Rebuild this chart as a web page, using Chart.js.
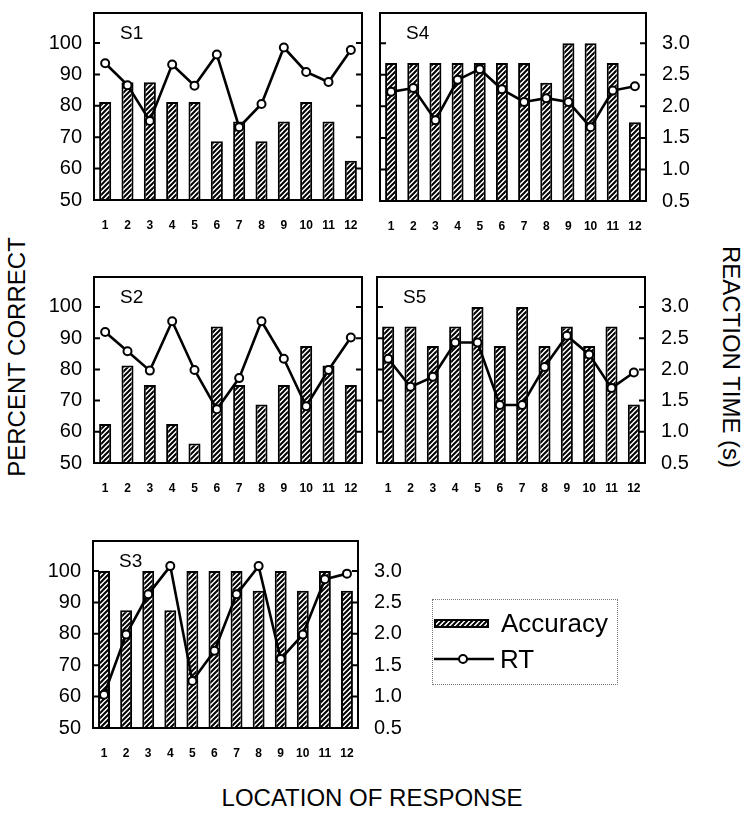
<!DOCTYPE html>
<html>
<head>
<meta charset="utf-8">
<script src="https://cdn.jsdelivr.net/npm/chart.js@4.4.1/dist/chart.umd.min.js"></script>
<style>
  body { margin: 0; width: 742px; height: 813px; position: relative; overflow: hidden; background: #fff;
         font-family: "Liberation Sans", Arial, sans-serif; color: #000; }
  .panel { position: absolute; }
  .tag { position: absolute; font-size: 19px; line-height: 1; }
  .title { position: absolute; font-size: 24px; white-space: nowrap; line-height: 1; }
  #legend { position: absolute; left: 432px; top: 599px; width: 186px; height: 86px;
            border: 1px dotted #777; box-sizing: border-box; font-size: 26px; line-height: 1; }
  #legend .row { position: absolute; left: 1px; display: flex; align-items: center; }
</style>
</head>
<body>

<div class="title" style="left:17px; top:357px; transform: translate(-50%,-50%) rotate(-90deg);">PERCENT CORRECT</div>
<div class="title" style="left:731px; top:357px; transform: translate(-50%,-50%) rotate(90deg);">REACTION TIME (s)</div>
<div class="title" style="left:372px; top:798px; transform: translate(-50%,-50%);">LOCATION OF RESPONSE</div>

<div id="legend">
  <div class="row" style="top:10px;"><canvas id="swatch" width="55" height="9" style="margin-right:12px;"></canvas>Accuracy</div>
  <div class="row" style="top:46px;"><svg width="60" height="14" style="margin-right:6px;">
    <line x1="0" y1="7" x2="60" y2="7" stroke="#000" stroke-width="2.5"/>
    <circle cx="29" cy="7" r="4" fill="#fff" stroke="#000" stroke-width="2"/></svg>RT</div>
</div>

<script>
// response locations and axis ticks
const locations = ['1', '2', '3', '4', '5', '6', '7', '8', '9', '10', '11', '12'];
const pctTicks = [50, 60, 70, 80, 90, 100];
const rtTicks = [0.5, 1.0, 1.5, 2.0, 2.5, 3.0];

// accuracy (% correct) and reaction time (s) per subject
const accS1 = [81.25, 87.5, 87.5, 81.25, 81.25, 68.75, 75, 68.75, 75, 81.25, 75, 62.5];
const rtS1 = [2.68, 2.33, 1.76, 2.66, 2.32, 2.82, 1.66, 2.03, 2.93, 2.54, 2.38, 2.89];

const accS2 = [62.5, 81.25, 75, 62.5, 56.25, 93.75, 75, 68.75, 75, 87.5, 81.25, 75];
const rtS2 = [2.60, 2.29, 1.98, 2.77, 1.99, 1.36, 1.86, 2.77, 2.17, 1.41, 1.99, 2.51];

const accS3 = [100, 87.5, 100, 87.5, 100, 100, 100, 93.75, 100, 93.75, 100, 93.75];
const rtS3 = [1.03, 1.99, 2.63, 3.08, 1.25, 1.73, 2.63, 3.08, 1.60, 1.99, 2.87, 2.96];

const accS4 = [93.75, 93.75, 93.75, 93.75, 93.75, 93.75, 93.75, 87.5, 100, 100, 93.75, 75];
const rtS4 = [2.23, 2.29, 1.78, 2.42, 2.59, 2.27, 2.07, 2.13, 2.07, 1.67, 2.25, 2.32];

const accS5 = [93.75, 93.75, 87.5, 93.75, 100, 87.5, 100, 87.5, 93.75, 87.5, 93.75, 68.75];
const rtS5 = [2.17, 1.72, 1.88, 2.43, 2.43, 1.43, 1.43, 2.04, 2.54, 2.24, 1.70, 1.95];

// both axes share one frame: 10 % correct <-> 0.5 s
const PCT_MAX = 109.6;
const RT_MAX = 0.5 + (PCT_MAX - 50) * 0.05;

const AX = 80, TOP = 2, XH = 40;

function makeHatch() {
  const c = document.createElement('canvas');
  c.width = 5; c.height = 5;
  const g = c.getContext('2d');
  g.fillStyle = '#fff';
  g.fillRect(0, 0, 5, 5);
  g.strokeStyle = '#000';
  g.lineWidth = 2;
  g.beginPath();
  g.moveTo(-1, 6); g.lineTo(6, -1);
  g.moveTo(-3.5, 3.5); g.lineTo(3.5, -3.5);
  g.moveTo(1.5, 8.5); g.lineTo(8.5, 1.5);
  g.stroke();
  return g.createPattern(c, 'repeat');
}

// closed box with inward ticks
const framePlugin = {
  id: 'frame',
  afterDatasetsDraw(chart) {
    const { ctx, chartArea: a, scales } = chart;
    ctx.save();
    ctx.strokeStyle = '#000';
    ctx.lineWidth = 2;
    ctx.strokeRect(a.left, a.top, a.right - a.left, a.bottom - a.top);
    ctx.beginPath();
    pctTicks.forEach(v => {
      const y = scales.y.getPixelForValue(v);
      ctx.moveTo(a.left, y); ctx.lineTo(a.left + 6, y);
    });
    rtTicks.forEach(v => {
      const y = scales.y1.getPixelForValue(v);
      ctx.moveTo(a.right - 6, y); ctx.lineTo(a.right, y);
    });
    ctx.stroke();
    ctx.restore();
  }
};

function noPadding(s) {
  s.paddingTop = 0; s.paddingBottom = 0; s.paddingLeft = 0; s.paddingRight = 0;
}

function panel(name, acc, rt, left, top, width, height, showLeft, showRight) {
  const box = document.createElement('div');
  box.className = 'panel';
  box.style.left = (left - AX) + 'px';
  box.style.top = (top - TOP) + 'px';
  box.style.width = (width + 2 * AX) + 'px';
  box.style.height = (height + TOP + XH) + 'px';
  const cv = document.createElement('canvas');
  box.appendChild(cv);
  document.body.appendChild(box);

  const tag = document.createElement('div');
  tag.className = 'tag';
  tag.textContent = name;
  tag.style.left = (left + 26) + 'px';
  tag.style.top = (top + 14) + 'px';
  document.body.appendChild(tag);

  new Chart(cv, {
    data: {
      labels: locations,
      datasets: [
        {
          type: 'line', label: 'RT', data: rt, yAxisID: 'y1', order: 0,
          borderColor: '#000', borderWidth: 2.6, tension: 0,
          pointRadius: 4, pointBackgroundColor: '#fff', pointBorderColor: '#000', pointBorderWidth: 2
        },
        {
          type: 'bar', label: 'Accuracy', data: acc, yAxisID: 'y', order: 1,
          backgroundColor: makeHatch(), borderColor: '#000', borderWidth: 2,
          categoryPercentage: 1, barPercentage: 0.54
        }
      ]
    },
    options: {
      responsive: true,
      maintainAspectRatio: false,
      animation: false,
      layout: { padding: { top: TOP } },
      plugins: { legend: { display: false }, tooltip: { enabled: false } },
      scales: {
        x: {
          offset: true,
          grid: { display: false, drawTicks: false }, border: { display: false },
          ticks: { color: '#000', font: { family: 'Liberation Sans', size: 12, weight: 'bold' }, padding: 18, maxRotation: 0, autoSkip: false },
          afterFit: s => { noPadding(s); s.height = XH; }
        },
        y: {
          position: 'left', min: 50, max: PCT_MAX,
          afterBuildTicks: s => { s.ticks = pctTicks.map(v => ({ value: v })); },
          grid: { display: false, drawTicks: false }, border: { display: false },
          ticks: { display: showLeft, color: '#000', font: { family: 'Liberation Sans', size: 20 }, padding: 12 },
          afterFit: s => { noPadding(s); s.width = AX; }
        },
        y1: {
          position: 'right', min: 0.5, max: RT_MAX,
          afterBuildTicks: s => { s.ticks = rtTicks.map(v => ({ value: v })); },
          grid: { display: false, drawTicks: false }, border: { display: false },
          ticks: { display: showRight, color: '#000', font: { family: 'Liberation Sans', size: 20 }, padding: 16,
                   callback: v => Number(v).toFixed(1) },
          afterFit: s => { noPadding(s); s.width = AX; }
        }
      }
    },
    plugins: [framePlugin]
  });
}

panel('S1', accS1, rtS1, 94, 9, 268, 191, true, false);
panel('S4', accS4, rtS4, 380, 9, 266, 192, false, true);
panel('S2', accS2, rtS2, 94, 273, 268, 190, true, false);
panel('S5', accS5, rtS5, 377, 273, 268, 190, false, true);
panel('S3', accS3, rtS3, 93, 537, 265, 191, true, true);

// legend swatch uses the same hatch as the bars
const sw = document.getElementById('swatch').getContext('2d');
sw.fillStyle = makeHatch();
sw.fillRect(0, 0, 55, 9);
sw.lineWidth = 2;
sw.strokeRect(1, 1, 53, 7);
</script>
</body>
</html>
